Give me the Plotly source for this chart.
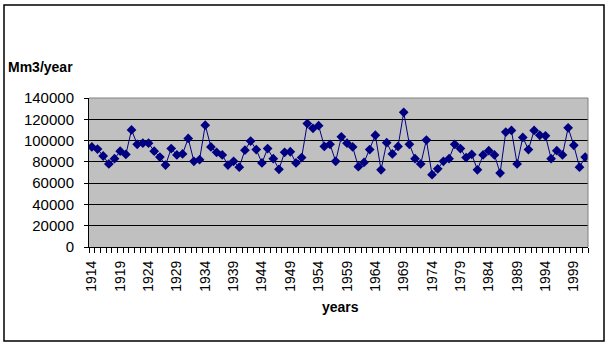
import plotly.graph_objects as go

years = list(range(1914, 2002))
flow = [
    94000, 92000, 85500, 78000, 83000, 90000, 87000, 110000, 96500, 97500,
    97500, 90000, 84500, 77000, 92500,
    86500, 87500, 102000, 80500, 82000, 114500, 94000, 89000, 86500, 77000,
    80500, 75000, 91000, 99500, 91500,
    79000, 92500, 83000, 73000, 89000, 89500, 79000, 84000, 116000, 111500,
    114000, 94500, 96500, 80500, 103500,
    97500, 94000, 75500, 79500, 91500, 105000, 72500, 98000, 87500, 94500,
    126500, 96500, 83000, 78000,
    100500, 68000, 73500, 80500, 83000, 96500, 92500, 84000, 87000, 72500,
    86500, 90500, 86500, 69500, 108000,
    109500, 78000, 103000, 91500, 109500, 105000, 104500, 83000, 90500, 86500,
    112000, 95500, 75000, 84500,
]
tick_years = list(range(1914, 2000, 5))
y_ticks = list(range(0, 140001, 20000))

FONT = "Arial, 'Liberation Sans', sans-serif"

fig = go.Figure()
fig.add_trace(go.Scatter(
    x=years, y=flow, mode="lines+markers",
    line=dict(color="#000080", width=1),
    marker=dict(symbol="diamond", size=7.5, color="#000080"),
    showlegend=False,
))

fig.update_layout(
    width=610, height=351,
    margin=dict(l=89, r=22, t=98, b=104),
    paper_bgcolor="white",
    plot_bgcolor="#C0C0C0",
    font=dict(family=FONT, color="black", size=14),
    xaxis=dict(
        range=[1913.5, 2001.5],
        tickvals=tick_years,
        ticktext=[str(y) for y in tick_years],
        tickangle=-90,
        ticks="",
        ticklabelstandoff=7,
        tickfont=dict(size=14),
        showgrid=False,
        zeroline=False,
        showline=True, linecolor="black", linewidth=1,
        minor=dict(ticks="outside", tick0=1913.5, dtick=1, ticklen=5,
                   tickcolor="black", tickwidth=1, showgrid=False),
    ),
    yaxis=dict(
        range=[0, 140000],
        tickvals=y_ticks,
        ticktext=[str(v) for v in y_ticks],
        ticks="outside", ticklen=4, tickcolor="black",
        ticklabelstandoff=7,
        tickfont=dict(size=15),
        showgrid=True, gridcolor="black", gridwidth=1,
        zeroline=False,
        showline=True, linecolor="black", linewidth=1,
    ),
    shapes=[
        dict(type="line", xref="paper", yref="paper", x0=0, x1=1, y0=1, y1=1,
             line=dict(color="#808080", width=1), layer="above"),
        dict(type="line", xref="paper", yref="paper", x0=1, x1=1, y0=0, y1=1,
             line=dict(color="#808080", width=1), layer="above"),
        dict(type="rect", xref="paper", yref="paper",
             x0=(4 - 89) / 499, x1=(604 - 89) / 499,
             y0=(247 - 341) / 149, y1=(247 - 5) / 149,
             line=dict(color="black", width=1.5), layer="above"),
    ],
    annotations=[
        dict(text="<b>Mm3/year</b>", xref="paper", yref="paper",
             x=(6 - 89) / 499, y=(247 - 67) / 149, xanchor="left", yanchor="middle",
             showarrow=False, font=dict(size=14, family=FONT)),
        dict(text="<b>years</b>", xref="paper", yref="paper",
             x=(340 - 89) / 499, y=(247 - 307) / 149, xanchor="center", yanchor="middle",
             showarrow=False, font=dict(size=14, family=FONT)),
    ],
)

fig.write_html("out.html")
